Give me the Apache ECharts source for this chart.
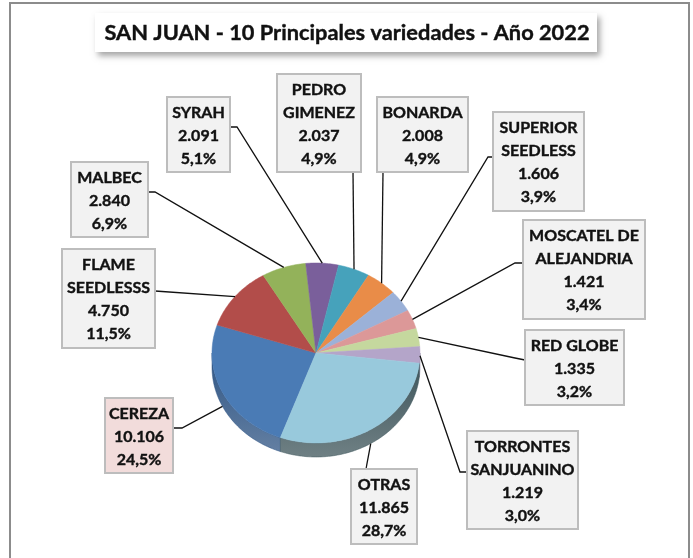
<!DOCTYPE html>
<html>
<head>
<meta charset="utf-8">
<script src="https://cdn.jsdelivr.net/npm/echarts@6/dist/echarts.min.js"></script>
<style>
  html, body { margin: 0; padding: 0; background: #ffffff; }
  #chart { width: 693px; height: 558px; }
</style>
</head>
<body>
<div id="chart"></div>
<script>
// Ten main grape varieties of San Juan, 2022 (hectares and share of total)
const varieties = ['CEREZA', 'FLAME SEEDLESSS', 'MALBEC', 'SYRAH', 'PEDRO GIMENEZ', 'BONARDA',
  'SUPERIOR SEEDLESS', 'MOSCATEL DE ALEJANDRIA', 'RED GLOBE', 'TORRONTES SANJUANINO', 'OTRAS'];
const labelLines = [['CEREZA'], ['FLAME', 'SEEDLESSS'], ['MALBEC'], ['SYRAH'], ['PEDRO', 'GIMENEZ'],
  ['BONARDA'], ['SUPERIOR', 'SEEDLESS'], ['MOSCATEL DE', 'ALEJANDRIA'], ['RED GLOBE'],
  ['TORRONTES', 'SANJUANINO'], ['OTRAS']];
const hectares = [10106, 4750, 2840, 2091, 2037, 2008, 1606, 1421, 1335, 1219, 11865];
const shares = [24.5, 11.5, 6.9, 5.1, 4.9, 4.9, 3.9, 3.4, 3.2, 3.0, 28.7];

const sliceColors = ['#4a7bb5', '#b24d4a', '#93b25a', '#7a5f9b', '#46a2bb', '#e98c48',
  '#9bb1d8', '#dc9898', '#c5d89e', '#b4a5c9', '#98c9dc'];
const sideColors = ['#2f5584', '#7d3331', '#66803d', '#54406e', '#2e7286', '#a8632f',
  '#6c7fa0', '#9d6b6b', '#8d9b70', '#7f7592', '#3f565c'];
const boxFills = ['#f2dcdb', '#f2f2f2', '#f2f2f2', '#f2f2f2', '#f2f2f2', '#f2f2f2',
  '#f2f2f2', '#f2f2f2', '#f2f2f2', '#f2f2f2', '#f2f2f2'];

// Pie geometry: tilted ellipse with a visible rim
const CX = 316, CY = 353, RX = 104, RY = 90, DEPTH = 14, START_ANGLE = 200;

// Label boxes [left, top, width, height] and the leader path from the box towards the pie
const boxes = [
  [105, 398, 68, 75], [62, 249, 93, 99], [71, 162, 77, 75], [167, 97, 63, 75],
  [277, 74, 84, 98], [377, 97, 91, 75], [493, 112, 91, 99], [523, 220, 122, 99],
  [525, 330, 99, 75], [467, 431, 111, 98], [351, 469, 66, 75]
];
const leaderStarts = [
  [[173, 428], [182, 428]], [[155, 291]], [[148, 192], [155, 192]], [[230, 127], [237, 127]],
  [[353, 172]], [[383, 172]], [[493, 157], [488, 157]], [[523, 263], [515, 263]],
  [[525, 360], [515, 358]], [[467, 472], [460, 472]], [[366, 469]]
];

function fmtThousands(n) { return String(n).replace(/\B(?=(\d{3})+(?!\d))/g, '.'); }
function fmtPct(p) { return p.toFixed(1).replace('.', ',') + '%'; }

const total = hectares.reduce((a, b) => a + b, 0);
const startAngles = [];
(function () { let acc = 0; hectares.forEach(v => { startAngles.push(START_ANGLE + acc / total * 360); acc += v; }); })();

// angle measured clockwise from 12 o'clock
function rim(theta, drop) {
  const r = theta * Math.PI / 180;
  return [CX + RX * Math.sin(r), CY - RY * Math.cos(r) + (drop || 0)];
}
function arcPts(a, b, drop) {
  const pts = [];
  const n = Math.max(2, Math.ceil(Math.abs(b - a)));
  for (let k = 0; k <= n; k++) pts.push(rim(a + (b - a) * k / n, drop));
  return pts;
}

function renderItem(params, api) {
  const i = params.dataIndex;
  const value = api.value(1);
  const a = startAngles[i];
  const b = a + value / total * 360;
  const children = [];

  // visible front wall (angles between 90 and 270, modulo 360)
  [[90, 270], [450, 630]].forEach(([lo, hi]) => {
    const s = Math.max(a, lo), e = Math.min(b, hi);
    if (e > s) {
      const pts = arcPts(s, e, 0).concat(arcPts(s, e, DEPTH).reverse());
      children.push({
        type: 'polygon', z2: 1,
        shape: { points: pts },
        style: {
          fill: new echarts.graphic.LinearGradient(0, 0, 0, 1, [
            { offset: 0, color: sideColors[i] },
            { offset: 1, color: echarts.color.lift(sideColors[i], 0.25) }
          ]),
          stroke: sideColors[i], lineWidth: 0.5
        }
      });
    }
  });

  // top face
  const top = [[CX, CY]].concat(arcPts(a, b, 0));
  children.push({
    type: 'polygon', z2: 2,
    shape: { points: top },
    style: { fill: sliceColors[i], stroke: sliceColors[i], lineWidth: 0.5 }
  });

  // leader line from the outer edge of the slice to its label
  const mid = (a + b) / 2;
  const c = Math.cos(mid * Math.PI / 180);
  const drop = c < 0 ? DEPTH * Math.min(1, -c * 3) : 0;
  const anchor = rim(mid, drop);
  const path = leaderStarts[i].concat([anchor]);
  children.push({
    type: 'polyline', z2: 3,
    shape: { points: path },
    style: { stroke: '#111111', lineWidth: 1.3, fill: null }
  });

  // label box
  const [bx, by, bw, bh] = boxes[i];
  children.push({
    type: 'rect', z2: 4,
    shape: { x: bx, y: by, width: bw, height: bh },
    style: { fill: boxFills[i], stroke: '#bdbdbd', lineWidth: 2 }
  });
  const text = labelLines[i].concat([fmtThousands(value), fmtPct(shares[i])]).join('\n');
  children.push({
    type: 'text', z2: 5,
    style: {
      text: text, x: bx + bw / 2, y: by + bh / 2 + 1,
      align: 'center', verticalAlign: 'middle',
      fontFamily: 'Lato', fontWeight: 'bold', fontSize: 16, lineHeight: 23,
      fill: '#111111', stroke: '#111111', lineWidth: 0.4
    }
  });

  return { type: 'group', children: children };
}

const chart = echarts.init(document.getElementById('chart'), null, { renderer: 'canvas' });
chart.setOption({
  backgroundColor: '#ffffff',
  animation: false,
  graphic: [
    { type: 'rect', z: 0, shape: { x: 10, y: 3, width: 679, height: 620 },
      style: { fill: null, stroke: '#8c8c8c', lineWidth: 2 } },
    { type: 'rect', z: 10, shape: { x: 95, y: 13, width: 502, height: 39 },
      style: { fill: '#ffffff', shadowBlur: 6, shadowOffsetX: 3, shadowOffsetY: 4, shadowColor: 'rgba(0,0,0,0.35)' } },
    { type: 'text', z: 11, x: 347, y: 33,
      style: { text: 'SAN JUAN - 10 Principales variedades - Año 2022', fontFamily: 'Lato', fontWeight: 'bold',
        fontSize: 21.8, fill: '#111111', align: 'center', verticalAlign: 'middle',
        stroke: '#111111', lineWidth: 0.4 } }
  ],
  series: [{
    type: 'custom',
    coordinateSystem: 'none',
    silent: true,
    renderItem: renderItem,
    data: hectares.map((v, i) => [i, v, varieties[i]])
  }]
});
</script>
</body>
</html>
